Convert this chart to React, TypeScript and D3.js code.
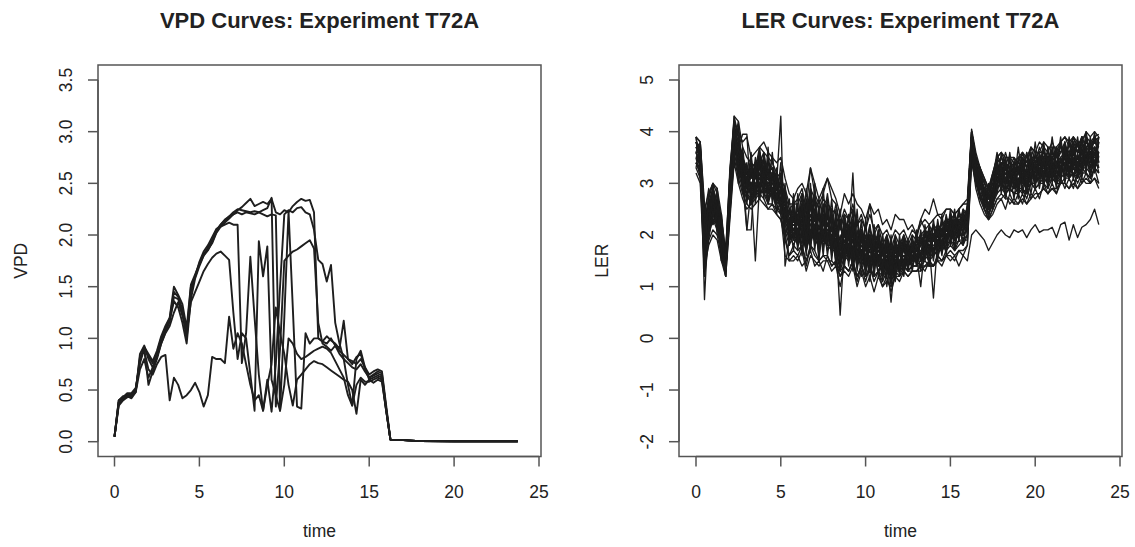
import React from "react";
import * as d3 from "d3";

// ---------------- DATA ----------------
const xTicks = [0, 5, 10, 15, 20, 25];
const vpdTicks = [0, 0.5, 1, 1.5, 2, 2.5, 3, 3.5];
const lerTicks = [-2, -1, 0, 1, 2, 3, 4, 5];
const vpdTickLabels = ["0.0", "0.5", "1.0", "1.5", "2.0", "2.5", "3.0", "3.5"];
const lerTickLabels = ["-2", "-1", "0", "1", "2", "3", "4", "5"];

// VPD: measured every 0.25 h from 0 to 16 h, then a common night tail
const vpdTimes = d3.range(0, 16.001, 0.25);
const vpdTailTimes = [16.25, 17, 18, 20, 23.75];
const vpdTailValues = [0.02, 0.015, 0.006, 0.005, 0.005];

const vpdA = [
  0.05, 0.38, 0.42, 0.45, 0.46, 0.5, 0.78, 0.92, 0.85, 0.78, 0.88, 1.02, 1.12,
  1.2, 1.5, 1.42, 1.33, 1.1, 1.52, 1.62, 1.72, 1.82, 1.86, 1.92, 2.02, 2.08,
  2.12, 2.16, 2.2, 2.24, 2.27, 2.31, 2.35, 2.28, 2.3, 2.32, 2.3, 2.35, 2.22,
  2.2, 2.24, 2.22, 2.28, 2.32, 2.35, 2.33, 2.34, 2.22, 1.0, 0.97, 0.95, 1.0,
  0.93, 0.88, 0.84, 0.8, 0.78, 0.75, 0.8, 0.72, 0.65, 0.68, 0.7, 0.68, 0.35,
];
const vpdB = [
  0.05, 0.35, 0.4, 0.43, 0.44, 0.48, 0.85, 0.93, 0.8, 0.72, 0.82, 0.98, 1.08,
  1.18, 1.36, 1.3, 1.15, 0.95, 1.38, 1.58, 1.7, 1.8, 1.88, 1.95, 2.05, 2.1,
  2.14, 2.18, 2.2, 2.22, 2.2, 2.22, 2.21, 2.2, 2.22, 2.24, 2.26, 2.36, 0.34,
  0.9, 1.75, 1.8, 1.84, 1.86, 1.89, 1.92, 1.95, 1.87, 1.15, 0.95, 0.92, 0.88,
  0.93, 0.85, 0.8, 0.76, 0.72, 0.7, 0.75, 0.68, 0.62, 0.64, 0.66, 0.64, 0.32,
];
const vpdC = [
  0.05, 0.4, 0.44, 0.44, 0.42, 0.48, 0.7, 0.8, 0.62, 0.72, 0.82, 0.95, 1.05,
  1.12, 1.25, 1.35, 1.22, 1.05, 1.35, 1.45, 1.55, 1.65, 1.72, 1.78, 1.82, 1.84,
  1.8, 1.76, 1.25, 0.8, 1.05, 1.0, 0.65, 0.3, 1.94, 1.6, 1.89, 0.6, 0.45,
  0.3, 0.55, 1.0, 0.95, 0.85, 0.8, 0.82, 0.85, 0.88, 0.9, 0.92, 0.9, 0.86,
  0.78, 0.7, 0.62, 0.45, 0.35, 0.55, 0.62, 0.58, 0.58, 0.6, 0.62, 0.6, 0.3,
];
const vpdD = [
  0.05, 0.36, 0.42, 0.46, 0.45, 0.5, 0.82, 0.88, 0.7, 0.65, 0.75, 0.82, 0.84,
  0.4, 0.62, 0.55, 0.42, 0.45, 0.5, 0.57, 0.48, 0.34, 0.45, 0.82, 0.8, 0.8,
  0.76, 1.21, 0.9, 1.05, 0.95, 0.75, 0.55, 0.4, 0.45, 0.3, 0.55, 0.75, 1.3,
  1.05, 0.85, 0.55, 0.35, 0.6, 0.65, 0.7, 0.75, 0.78, 0.76, 0.75, 0.72, 0.69,
  0.66, 0.63, 0.6, 0.58, 0.5, 0.27, 0.6, 0.55, 0.6, 0.57, 0.6, 0.58, 0.3,
];
const vpdE = [
  0.05, 0.4, 0.43, 0.47, 0.47, 0.52, 0.76, 0.9, 0.55, 0.68, 0.8, 0.95, 1.06,
  1.16, 1.4, 1.38, 1.25, 1.0, 1.45, 1.6, 1.74, 1.84, 1.9, 1.98, 2.06, 2.08,
  2.1, 2.12, 2.1, 2.1, 0.76, 1.05, 1.79, 1.2, 0.65, 0.3, 0.6, 0.29, 0.75,
  1.5, 2.2, 2.24, 2.22, 2.26, 2.27, 2.22, 2.2, 2.05, 1.76, 1.72, 1.55, 1.71,
  1.15, 0.95, 0.8, 0.55, 0.35, 0.8, 0.88, 0.72, 0.6, 0.62, 0.64, 0.62, 0.3,
];
const vpdF = [
  0.05, 0.38, 0.41, 0.44, 0.45, 0.49, 0.8, 0.91, 0.83, 0.76, 0.86, 1.0, 1.1,
  1.19, 1.45, 1.4, 1.28, 1.05, 1.5, 1.6, 1.72, 1.8, 1.85, 1.93, 2.03, 2.1,
  2.15, 2.18, 2.22, 2.25, 2.24, 2.23, 2.22, 2.23, 2.22, 2.2, 2.18, 2.2, 2.19,
  0.3, 1.2, 2.23, 1.3, 0.34, 0.32, 1.05, 0.95, 1.0, 1.0, 0.97, 1.02, 0.98,
  0.95, 0.9, 1.17, 0.8, 0.75, 0.82, 0.85, 0.7, 0.62, 0.65, 0.68, 0.66, 0.32,
];
const vpdCurves = [vpdA, vpdB, vpdC, vpdD, vpdE, vpdF];

// LER: measured every 0.25 h over the day
const lerTimes = d3.range(0, 23.76, 0.25);

const ler01 = [3.8,3.7,2.0,2.6,2.9,2.6,2.1,1.5,3.0,4.1,3.9,3.4, 3.3,3.1,3.4,3.5,3.3,3.4,3.1,3.2,2.9,2.7,2.3,2.5, 2.2,2.6,2.1,2.7,2.4,2.3,2.5,2.2,2.4,2.0,1.9,2.2, 2.1,2.4,1.9,2.1,1.8,2.1,1.9,2.0,1.7,1.9,1.6,1.8, 1.7,1.9,1.7,1.8,1.9,2.0,2.1,2.0,2.2,2.1,2.2,2.3, 2.3,2.2,2.4,2.3,2.5,4.0,3.5,3.2,3.0,2.8,3.1,3.4, 3.5,3.3,3.4,3.2,3.4,3.3,3.2,3.5,3.4,3.5,3.6,3.4, 3.6,3.4,3.6,3.7,3.5,3.7,3.6,3.6,3.8,3.7,3.8,3.7];
const ler02 = [3.4,3.2,1.5,2.1,2.3,2.2,1.7,1.3,2.6,3.7,3.3,3.0, 2.8,2.7,2.8,2.9,2.8,2.7,2.8,2.5,2.5,2.1,1.8,2.0, 1.9,2.0,1.7,2.1,1.9,1.8,1.9,1.8,1.7,1.7,1.3,1.6, 1.5,1.8,1.4,1.6,1.3,1.6,1.4,1.5,1.2,1.4,1.2,1.4, 1.3,1.4,1.3,1.4,1.4,1.5,1.6,1.5,1.6,1.7,1.7,1.8, 1.9,1.8,1.9,1.9,2.0,3.6,3.1,2.8,2.6,2.4,2.6,2.8, 2.9,2.8,2.9,2.8,2.8,2.9,2.7,3.0,2.9,3.0,3.0,2.9, 3.1,3.0,3.0,3.1,3.1,3.2,3.0,3.2,3.2,3.1,3.3,3.2];
const ler03 = [3.7,3.6,1.9,2.2,2.8,2.3,2.0,1.4,2.7,4.0,3.5,3.3, 2.9,3.2,2.9,3.4,3.0,3.2,2.8,2.9,2.5,2.6,2.0,2.4, 1.9,2.5,1.8,2.6,2.0,2.2,1.9,2.4,1.8,2.1,1.4,2.1, 1.6,2.3,1.5,2.0,1.4,2.0,1.5,1.9,1.3,1.8,1.3,1.7, 1.4,1.8,1.4,1.7,1.5,1.9,1.7,2.0,1.7,2.0,1.8,2.1, 2.0,2.2,2.0,2.3,2.1,3.9,3.2,3.1,2.7,2.7,2.7,3.3, 3.0,3.3,2.9,3.2,2.9,3.3,2.8,3.4,3.0,3.4,3.1,3.4, 3.1,3.4,3.1,3.6,3.2,3.6,3.2,3.6,3.4,3.6,3.3,3.6];
const ler04 = [3.5,3.4,2.2,2.5,2.5,2.7,1.8,1.6,2.9,3.8,3.8,3.1, 3.2,2.9,3.1,3.1,3.3,2.9,3.2,2.7,2.9,2.3,2.3,2.1, 2.3,2.2,2.2,2.2,2.4,1.9,2.4,2.0,2.2,1.8,1.8,1.8, 2.0,1.9,1.9,1.7,1.8,1.7,1.8,1.6,1.7,1.5,1.6,1.5, 1.7,1.5,1.7,1.5,1.8,1.6,2.0,1.7,2.0,1.8,2.1,1.9, 2.3,2.0,2.3,2.0,2.4,3.7,3.4,2.9,2.9,2.5,2.9,3.0, 3.4,3.0,3.3,2.9,3.3,3.0,3.2,3.1,3.4,3.1,3.5,3.1, 3.5,3.1,3.5,3.3,3.5,3.3,3.5,3.3,3.7,3.3,3.7,3.4];
const ler05 = [3.9,3.8,2.3,2.7,3.0,2.8,2.3,1.7,3.2,4.3,4.2,3.7, 3.5,3.4,3.3,3.7,3.6,3.5,3.4,3.2,3.1,2.9,2.6,2.6, 2.6,2.8,2.4,2.9,2.7,2.5,2.7,2.6,2.5,2.4,2.1,2.4, 2.3,2.6,2.2,2.3,2.1,2.4,2.1,2.2,2.0,2.1,1.9,2.1, 2.0,2.1,1.9,2.1,2.0,2.2,2.3,2.2,2.3,2.4,2.3,2.5, 2.5,2.4,2.5,2.6,2.6,4.05,3.6,3.3,3.1,2.9,3.2,3.5, 3.6,3.5,3.5,3.4,3.5,3.6,3.4,3.7,3.6,3.8,3.7,3.6, 3.8,3.6,3.8,3.9,3.7,3.9,3.8,3.8,4.0,3.9,4.0,3.9];
const ler06 = [3.2,3.0,1.2,1.9,2.1,2.0,1.6,1.2,2.4,3.5,3.1,2.8, 2.6,2.5,2.6,2.7,2.6,2.5,2.5,2.4,2.3,1.9,1.6,1.8, 1.7,1.8,1.4,1.8,1.7,1.5,1.6,1.5,1.5,1.4,1.0,1.4, 1.3,1.5,1.1,1.4,1.1,1.4,1.1,1.3,1.0,1.2,0.9,1.2, 1.1,1.3,1.2,1.3,1.3,1.3,1.4,1.4,1.4,1.5,1.5,1.6, 1.7,1.6,1.7,1.7,1.8,3.4,3.0,2.7,2.5,2.3,2.5,2.7, 2.8,2.7,2.7,2.6,2.6,2.7,2.6,2.8,2.7,2.8,2.9,2.8, 2.9,2.9,3.0,3.0,2.9,3.0,2.9,3.1,3.0,3.0,3.1,3.0];
const ler07 = [3.6,3.3,1.7,2.4,2.7,2.5,2.0,1.5,2.8,3.9,3.7,3.3, 3.1,3.0,2.9,3.3,3.2,3.1,2.9,3.0,4.3,1.4,1.9,2.0, 2.1,2.4,1.9,2.2,2.3,1.9,2.1,2.2,1.9,2.0,1.5,2.0, 1.9,2.1,1.6,1.9,1.5,1.9,1.6,1.8,1.4,1.7,1.3,1.7, 1.6,1.7,1.5,1.7,1.6,1.8,1.9,1.8,1.9,1.9,2.0,2.1, 2.1,2.1,2.2,2.2,2.3,3.8,3.3,3.0,2.8,2.7,2.9,3.1, 3.2,3.2,3.0,3.1,3.2,3.0,3.1,3.2,3.3,3.2,3.3,3.3, 3.3,3.3,3.4,3.4,3.3,3.5,3.3,3.4,3.5,3.5,3.5,3.6];
const ler08 = [3.8,3.6,2.0,2.3,2.6,2.4,1.9,1.3,2.9,4.0,3.4,3.0, 2.1,2.9,1.5,3.0,3.2,2.8,3.1,2.7,2.6,2.5,2.0,2.3, 2.0,2.3,2.1,2.4,2.1,2.1,2.3,2.0,2.1,1.8,1.7,1.9, 1.7,2.0,1.8,1.7,1.7,1.8,1.7,1.6,1.6,1.6,1.5,1.5, 1.5,1.7,1.6,1.5,1.7,1.6,1.8,1.9,1.7,1.9,2.0,1.9, 2.2,1.9,2.1,2.2,2.1,3.7,3.2,3.0,2.7,2.6,2.8,3.2, 3.1,3.0,3.2,3.0,3.0,3.1,3.0,3.3,3.1,3.1,3.4,3.1, 3.4,3.2,3.3,3.5,3.2,3.4,3.4,3.5,3.4,3.4,3.6,3.5];
const ler09 = [3.5,3.5,1.6,2.2,2.5,2.3,1.8,1.4,2.7,3.8,3.5,3.2, 3.0,3.1,3.1,3.2,3.0,3.0,2.9,2.8,2.7,2.3,2.2,2.1, 2.2,2.2,2.0,2.4,2.3,2.1,2.3,2.0,2.1,1.9,0.45,1.8, 1.9,3.2,1.6,1.9,1.7,1.8,1.7,1.8,1.6,1.6,1.5,1.6, 1.6,1.6,1.6,1.6,1.7,1.6,1.9,1.8,1.9,1.8,2.0,2.0, 2.1,2.0,2.1,2.2,2.2,3.9,3.3,3.0,2.8,2.6,2.7,3.0, 3.2,3.1,3.1,3.0,3.0,3.2,3.0,3.1,3.2,3.3,3.2,3.2, 3.3,3.1,3.3,3.4,3.4,3.3,3.3,3.4,3.5,3.4,3.4,3.5];
const ler10 = [3.7,3.7,0.75,2.4,2.8,2.5,2.0,1.4,2.8,3.9,3.6,3.3, 3.0,3.0,3.1,3.3,3.1,3.0,3.1,2.9,2.8,2.4,2.2,2.2, 2.1,2.3,2.0,2.2,2.2,2.0,2.2,2.1,2.0,1.9,1.7,1.9, 1.8,2.0,1.7,1.8,1.6,1.8,1.6,1.7,1.5,1.6,0.7,1.6, 1.5,1.6,1.5,1.6,1.6,1.7,1.8,1.8,1.8,1.9,1.9,2.0, 2.1,2.0,2.1,2.1,2.2,3.8,3.3,3.0,2.8,2.6,2.8,3.1, 3.3,3.1,3.2,3.1,3.1,3.1,3.1,3.2,3.3,3.2,3.3,3.3, 3.3,3.3,3.3,3.5,3.3,3.4,3.3,3.5,3.5,3.4,3.6,3.5];
const ler11 = [3.6,3.4,1.9,2.3,2.6,2.4,2.0,1.4,2.8,3.9,3.6,3.2, 3.0,3.0,3.0,3.1,3.1,3.0,3.0,2.8,2.7,2.4,2.1,2.2, 2.1,2.3,2.0,2.3,2.2,2.0,2.2,2.1,2.0,1.9,1.6,1.9, 1.8,2.0,1.7,1.8,1.6,1.8,1.6,1.7,1.5,1.6,1.4,1.6, 1.5,1.6,1.5,1.6,1.6,1.0,1.8,1.8,0.78,1.9,1.9,2.0, 2.1,2.0,2.1,2.1,2.2,3.8,3.3,3.0,2.8,2.6,2.8,3.1, 3.1,3.2,3.0,3.1,3.0,3.2,3.0,3.2,3.1,3.3,3.2,3.3, 3.3,3.2,3.3,3.3,3.4,3.3,3.3,3.4,3.4,3.5,3.4,3.6];
const ler12 = [3.9,3.8,2.5,2.8,3.0,2.9,2.4,1.6,3.3,4.2,4.0,3.8, 3.9,3.5,3.6,3.7,3.8,3.6,3.5,3.4,3.5,3.1,2.8,2.7, 2.9,3.0,2.8,3.3,3.0,2.7,2.9,3.1,2.9,2.7,2.4,2.8, 2.6,2.8,2.6,2.5,2.3,2.6,2.4,2.5,2.2,2.3,2.1,2.4, 2.3,2.3,2.1,2.2,2.0,2.3,2.5,2.4,2.7,2.4,2.4,2.5, 2.5,2.4,2.5,2.6,2.7,4.0,3.5,3.3,3.1,2.9,3.2,3.5, 3.6,3.4,3.5,3.5,3.4,3.6,3.5,3.7,3.6,3.6,3.8,3.7, 3.7,3.7,3.8,3.9,3.8,3.9,3.7,3.9,3.9,3.8,3.9,3.95];
const ler13 = [3.3,3.1,1.4,1.8,2.0,1.9,1.5,1.2,2.3,3.4,3.0,2.7, 2.5,2.6,2.7,2.8,2.7,2.5,2.6,2.4,2.3,2.0,1.5,1.6, 1.5,1.7,1.3,1.6,1.5,1.4,1.5,1.5,1.3,1.4,1.2,1.3, 1.2,1.4,1.0,1.3,1.0,1.2,0.9,1.2,1.0,1.1,1.0,1.2, 1.2,1.3,1.2,1.3,1.3,1.4,1.4,1.5,1.4,1.6,1.5,1.7, 1.8,1.7,1.8,1.9,1.9,3.5,3.1,2.8,2.6,2.4,2.6,2.9, 3.0,2.9,2.9,2.8,2.9,2.9,2.8,3.0,3.0,3.1,3.1,3.0, 3.2,3.0,3.2,3.3,3.1,3.3,3.1,3.3,3.3,3.2,3.4,3.3];
const ler14 = [3.8,3.5,2.2,2.7,2.6,2.8,2.1,1.5,3.1,4.1,3.8,3.5, 3.2,3.3,3.2,3.4,3.4,3.2,3.3,3.0,3.0,2.6,2.4,2.3, 2.5,2.0,2.7,1.8,2.8,1.7,2.6,1.8,2.5,1.6,2.3,1.7, 2.4,1.6,2.3,1.5,2.2,1.4,2.1,1.4,2.0,1.3,1.9,1.4, 1.9,1.4,1.8,1.5,1.9,1.6,2.1,1.6,2.2,1.8,2.3,1.9, 2.4,2.1,2.4,2.2,2.5,3.9,3.4,3.1,2.9,2.7,2.9,3.3, 3.3,3.3,3.2,3.3,3.2,3.4,3.2,3.4,3.3,3.5,3.4,3.4, 3.5,3.4,3.4,3.6,3.4,3.6,3.5,3.6,3.6,3.6,3.7,3.6];
const ler15 = [3.6,3.6,1.8,2.2,2.6,2.3,1.9,1.4,2.7,3.8,3.5,3.1, 2.9,2.8,3.0,3.0,2.9,2.9,2.8,2.7,2.6,2.3,2.0,2.1, 2.0,2.2,1.9,2.1,2.0,1.9,2.0,1.9,1.9,1.8,1.5,1.8, 1.7,1.9,1.6,1.7,1.5,1.7,1.5,1.6,1.4,1.5,1.3,1.5, 1.4,1.5,1.4,1.5,1.5,1.6,1.7,1.7,1.7,1.8,1.8,1.9, 2.0,1.9,2.0,2.0,2.1,3.6,3.0,2.8,2.5,2.3,2.5,2.7, 2.7,2.8,2.6,2.7,2.6,2.8,2.6,2.7,2.8,2.8,2.9,2.8, 2.9,2.8,3.0,3.0,2.9,3.1,2.9,3.0,3.1,3.0,3.1,2.9];
const ler16 = [3.7,3.5,2.1,2.5,2.7,2.6,2.1,1.5,2.9,4.0,3.7,3.95, 3.95,2.6,2.8,3.2,3.0,3.1,2.9,3.0,2.7,2.5,2.2,2.3, 2.2,2.4,2.1,2.3,2.3,2.1,2.2,2.2,2.1,2.0,1.7,2.0, 1.8,2.1,1.8,1.9,1.7,1.9,1.7,1.8,1.6,1.7,1.5,1.7, 1.6,1.7,1.6,1.7,1.7,1.8,1.9,1.9,1.9,2.0,2.0,2.1, 2.2,2.1,2.2,2.3,2.3,3.9,3.4,3.1,2.9,2.7,2.9,3.3, 3.4,3.3,3.3,3.2,3.3,3.3,3.2,3.4,3.4,3.4,3.5,3.4, 3.5,3.4,3.5,3.6,3.5,3.6,3.4,3.6,3.7,3.6,3.7,3.7];
const ler17 = [3.4,3.3,1.7,2.1,2.4,2.2,1.8,1.3,2.6,3.7,3.4,3.0, 2.8,2.9,2.9,3.0,2.9,2.8,2.8,2.6,2.4,1.6,1.5,1.5, 1.6,1.4,1.5,1.7,1.4,1.5,1.3,1.6,1.4,1.5,1.3,1.4, 1.3,1.5,1.2,1.4,1.2,1.3,1.2,1.3,1.1,1.3,1.2,1.3, 1.2,1.4,1.3,1.3,1.3,1.4,1.5,1.4,1.4,1.6,1.5,1.6, 1.6,1.5,1.7,1.6,1.8,3.5,3.1,2.7,2.5,2.4,2.6,2.9, 3.0,2.8,2.9,2.8,2.9,2.8,2.9,3.0,2.9,3.0,3.1,3.0, 3.1,3.0,3.1,3.2,3.1,3.2,3.1,3.3,3.2,3.1,3.3,3.2];
const ler18 = [3.7,3.6,2.0,2.5,2.8,2.6,2.0,1.5,3.0,4.0,3.8,3.4, 3.2,3.2,3.1,3.6,3.3,3.2,3.3,3.0,3.0,2.8,2.5,2.6, 2.7,2.9,2.5,3.3,2.8,2.6,2.8,3.1,2.7,2.6,2.2,2.5, 2.3,2.5,2.2,2.4,2.1,2.6,2.0,2.2,1.8,2.0,1.7,2.0, 1.8,2.0,1.8,2.0,1.9,2.3,2.1,2.2,2.0,2.2,2.1,2.3, 2.3,2.2,2.4,2.4,2.5,4.0,3.5,3.2,2.9,2.8,3.0,3.4, 3.5,3.3,3.4,3.3,3.3,3.5,3.3,3.5,3.5,3.6,3.6,3.5, 3.6,3.5,3.7,3.7,3.6,3.8,3.6,3.8,3.8,3.7,3.9,3.8];
const ler19 = [3.5,3.6,1.9,2.0,2.5,2.2,1.7,1.3,2.7,3.8,3.4,3.1, 2.9,3.0,2.8,3.1,3.0,2.9,2.8,2.6,2.7,2.2,1.9,2.0, 1.8,2.1,1.7,2.0,1.9,1.8,1.9,1.8,1.8,1.7,1.4,1.7, 1.6,1.9,1.5,1.7,1.4,1.6,1.4,1.6,1.3,1.5,1.2,1.5, 1.4,1.5,1.4,1.6,1.5,1.6,1.7,1.7,1.7,1.8,1.8,1.9, 2.0,1.9,2.0,2.0,2.1,3.7,3.2,2.9,2.7,2.5,2.7,3.0, 3.1,3.0,3.0,2.9,3.1,3.0,2.9,3.1,3.1,3.1,3.2,3.1, 3.2,3.1,3.2,3.3,3.2,3.3,3.2,3.3,3.4,3.3,3.4,3.3];
const ler20 = [3.8,3.7,2.1,2.6,2.9,2.6,2.2,1.6,2.9,4.2,3.9,3.5, 3.3,3.2,3.3,3.5,3.4,3.2,3.2,3.1,2.9,2.7,2.4,2.4, 2.4,2.6,2.3,2.5,2.5,2.3,2.4,2.3,2.3,2.1,1.9,2.1, 2.0,2.2,1.9,2.0,1.8,2.0,1.8,1.9,1.7,1.8,1.6,1.8, 1.7,1.8,1.7,1.8,1.8,1.9,2.0,2.0,2.0,2.1,2.1,2.2, 2.3,2.2,2.3,2.3,2.4,3.9,3.4,3.1,2.9,2.7,3.0,3.3, 3.4,3.4,3.3,3.4,3.3,3.5,3.3,3.5,3.5,3.4,3.6,3.5, 3.6,3.5,3.6,3.7,3.6,3.7,3.6,3.7,3.8,3.7,3.8,3.8];
const ler21 = [3.9,3.4,2.4,2.9,2.4,2.9,1.8,1.6,3.2,4.2,3.3,3.6, 2.7,3.5,2.8,3.7,2.9,3.5,2.7,3.3,2.5,2.9,2.0,2.7, 1.9,2.8,1.8,3.0,1.9,2.6,1.9,2.7,1.7,2.5,1.5,2.4, 1.6,2.5,1.5,2.3,1.4,2.2,1.4,2.1,1.3,2.0,1.2,2.0, 1.3,2.0,1.4,2.0,1.5,2.1,1.6,2.2,1.6,2.3,1.8,2.4, 2.0,2.5,1.9,2.5,2.1,3.9,3.1,3.3,2.6,2.9,2.7,3.5, 3.0,3.5,2.9,3.4,2.9,3.5,2.8,3.6,3.0,3.6,3.1,3.7, 3.1,3.7,3.2,3.8,3.1,3.8,3.2,3.9,3.3,3.8,3.3,3.9];
const ler22 = [3.3,3.7,1.4,2.7,2.2,2.6,1.5,1.3,2.5,3.6,3.8,2.9, 3.3,2.6,3.2,2.7,3.3,2.6,3.2,2.4,2.9,2.0,2.3,1.7, 2.4,1.6,2.3,1.7,2.5,1.5,2.4,1.6,2.2,1.4,1.9,1.4, 2.0,1.3,1.9,1.2,1.8,1.1,1.8,1.2,1.7,1.0,1.6,1.1, 1.7,1.2,1.7,1.3,1.8,1.3,1.9,1.4,2.0,1.5,2.1,1.6, 2.3,1.7,2.2,1.8,2.3,3.6,3.4,2.7,2.9,2.3,2.9,2.8, 3.2,2.7,3.2,2.7,3.3,2.8,3.2,2.8,3.3,2.9,3.4,2.9, 3.4,2.9,3.5,3.0,3.5,3.1,3.4,3.1,3.6,3.1,3.6,3.2];
const ler23 = [3.6,3.8,2.6,2.0,3.0,2.1,2.3,1.2,3.1,3.7,4.1,2.8, 3.1,3.4,2.7,3.6,2.8,3.4,3.3,2.6,3.1,2.2,2.5,1.9, 2.6,1.9,2.6,2.0,2.7,1.8,2.6,1.9,2.4,1.7,2.3,1.6, 2.2,1.5,2.1,1.6,2.0,1.4,2.0,1.5,1.8,1.4,1.8,1.3, 1.8,1.4,1.9,1.5,2.0,1.5,2.1,1.6,2.2,1.7,2.3,1.8, 2.4,1.9,2.5,2.0,2.5,3.8,3.2,3.1,2.7,2.8,2.6,3.2, 3.4,2.9,3.5,2.9,3.5,3.0,3.6,3.0,3.6,3.1,3.7,3.1, 3.7,3.2,3.8,3.2,3.8,3.3,3.9,3.3,3.9,3.4,4.0,3.4];
const ler24 = [3.5,3.1,2.4,1.9,2.5,2.8,2.2,1.4,2.6,4.0,3.2,3.5, 2.6,3.3,3.4,2.8,3.5,2.7,3.0,3.1,2.5,2.8,1.8,2.5, 1.7,2.5,1.6,2.7,1.7,2.4,1.6,2.5,1.5,2.3,1.3,2.2, 1.4,2.1,1.3,2.0,1.2,1.9,1.2,1.9,1.1,1.8,1.0,1.8, 1.2,1.8,1.3,1.8,1.4,1.9,1.5,2.0,1.5,2.1,1.6,2.2, 1.8,2.3,1.9,2.4,2.0,3.7,3.0,3.2,2.5,2.8,2.5,3.3, 2.8,3.4,2.8,3.3,2.7,3.4,2.8,3.4,2.9,3.5,2.9,3.5, 3.0,3.6,3.0,3.7,3.1,3.7,3.1,3.7,3.2,3.8,3.2,3.8];
const ler25 = [3.7,3.6,2.3,2.4,2.9,2.5,2.4,1.3,3.0,4.3,3.9,3.3, 2.1,2.1,3.4,3.4,3.6,3.1,3.5,2.9,3.2,2.6,2.4,2.5, 2.3,2.8,2.2,2.9,2.4,2.7,2.3,2.8,2.2,2.6,2.1,2.4, 2.0,2.3,1.9,2.2,1.8,2.2,1.7,2.1,1.6,2.0,1.6,1.9, 1.7,2.0,1.7,1.9,1.8,2.0,2.0,2.1,1.9,2.2,2.1,2.2, 2.3,2.4,2.2,2.5,2.4,4.0,3.5,3.3,3.0,2.9,3.1,3.6, 3.3,3.6,3.3,3.5,3.2,3.6,3.3,3.7,3.4,3.7,3.5,3.6, 3.5,3.7,3.6,3.8,3.5,3.9,3.6,3.9,3.7,3.8,3.8,3.9];
const ler26 = [3.4,3.3,2.0,2.6,2.2,2.5,1.6,1.5,2.5,3.5,3.4,2.9, 2.8,2.6,2.9,2.7,3.0,2.6,2.9,2.5,2.6,2.1,2.0,1.8, 2.0,1.7,2.1,1.8,2.2,1.6,2.1,1.7,2.0,1.5,1.8,1.5, 1.7,1.4,1.7,1.4,1.6,1.3,1.6,1.3,1.5,1.3,1.5,1.2, 1.5,1.3,1.5,1.4,1.6,1.4,1.7,1.5,1.7,1.6,1.8,1.7, 1.9,1.7,1.9,1.8,2.0,3.5,2.9,2.6,2.4,2.3,2.4,2.6, 2.7,2.5,2.8,2.6,2.8,2.6,2.9,2.7,2.9,2.7,3.0,2.8, 3.0,2.8,3.1,2.9,3.1,2.9,3.2,3.0,3.2,3.0,3.3,3.0];
const ler27 = [3.8,3.5,1.5,2.8,3.0,2.2,2.3,1.2,3.2,3.8,4.2,3.0, 3.4,2.8,3.5,2.9,3.6,2.8,3.6,2.6,3.4,2.2,2.7,1.9, 2.8,2.0,2.9,1.9,3.0,1.8,2.9,1.9,2.7,1.7,2.5,1.6, 2.4,1.5,2.5,1.4,2.3,1.3,2.2,1.4,2.0,1.3,2.0,1.2, 2.0,1.4,1.9,1.5,2.1,1.5,2.2,1.6,2.3,1.7,2.4,1.8, 2.5,2.0,2.5,2.1,2.6,3.9,3.4,2.9,3.1,2.5,3.2,2.9, 3.6,3.0,3.6,3.0,3.7,3.1,3.6,3.1,3.8,3.2,3.8,3.2, 3.9,3.3,3.9,3.3,3.9,3.4,3.8,3.4,4.0,3.5,3.9,3.5];
const ler28 = [3.9,3.2,1.8,2.1,2.7,2.6,1.5,1.7,2.4,4.1,3.0,3.7, 2.9,3.6,2.6,3.4,2.7,3.7,2.6,3.2,2.4,3.0,1.9,2.8, 1.8,2.6,1.7,2.8,1.8,2.5,1.7,2.6,1.6,2.4,1.4,2.3, 1.5,2.2,1.4,2.1,1.3,2.0,1.3,2.0,1.2,1.9,1.1,1.9, 1.3,1.9,1.4,1.9,1.5,2.0,1.6,2.1,1.6,2.2,1.7,2.3, 1.9,2.4,2.0,2.4,2.1,3.8,3.0,3.3,2.6,3.0,2.6,3.4, 2.9,3.5,2.9,3.4,2.8,3.5,2.9,3.6,3.0,3.6,3.0,3.7, 3.1,3.7,3.1,3.8,3.2,3.8,3.2,3.9,3.3,3.9,3.3,3.9];
const ler29 = [3.6,3.4,1.3,2.2,2.8,2.0,2.0,1.3,2.9,3.9,3.7,3.3, 3.1,2.9,3.3,2.9,3.2,2.8,3.1,2.7,2.9,2.3,2.2,2.0, 2.3,1.8,2.4,1.9,2.4,1.7,2.3,1.8,2.2,1.6,2.0,1.5, 2.1,1.4,2.0,1.5,1.9,1.3,1.9,1.4,1.8,1.2,1.7,1.3, 1.7,1.3,1.8,1.4,1.8,1.5,1.9,1.5,2.0,1.6,2.1,1.7, 2.2,1.8,2.2,1.9,2.2,3.7,3.2,2.8,2.8,2.4,2.8,2.9, 3.3,2.8,3.3,2.9,3.3,2.9,3.3,3.0,3.4,3.0,3.5,3.0, 3.5,3.0,3.5,3.1,3.6,3.1,3.6,3.2,3.7,3.2,3.7,3.3];
const ler30 = [3.7,3.7,2.2,2.5,2.3,2.9,1.7,1.6,2.7,4.0,3.5,3.4, 3.0,3.3,2.8,3.5,3.0,3.3,2.8,3.1,2.6,2.7,2.1,2.6, 2.0,2.6,1.9,2.6,2.0,2.4,2.0,2.5,1.8,2.3,1.7,2.2, 1.7,2.2,1.6,2.1,1.5,2.0,1.5,2.0,1.4,1.9,1.3,1.9, 1.4,1.9,1.5,1.8,1.6,1.9,1.7,2.0,1.7,2.1,1.8,2.2, 2.0,2.3,2.0,2.4,2.1,3.9,3.3,3.1,2.7,2.8,2.7,3.3, 3.0,3.4,3.0,3.3,3.0,3.4,3.0,3.5,3.1,3.5,3.2,3.5, 3.2,3.6,3.3,3.7,3.2,3.7,3.3,3.8,3.4,3.7,3.4,3.8];
// the one plant that stays low after 16 h
const ler31 = [3.4,3.2,1.6,2.0,2.3,2.1,1.7,1.3,2.5,3.6,3.2,2.9, 2.7,2.7,2.8,2.9,2.8,2.6,2.6,2.5,2.4,2.0,1.6,1.7, 1.6,1.8,1.5,1.8,1.6,1.5,1.6,1.6,1.4,1.5,1.2,1.4, 1.3,1.5,1.2,1.4,1.2,1.4,1.2,1.3,1.2,1.3,1.1,1.3, 1.3,1.4,1.3,1.4,1.4,1.4,1.3,1.5,1.4,1.5,1.4,1.6, 1.5,1.6,1.4,1.6,1.5,2.0,2.1,2.0,1.9,1.7,1.85,2.0, 2.1,2.0,1.95,2.1,2.05,2.1,1.95,2.1,2.2,2.05,2.1,2.1, 2.15,1.95,2.2,2.25,1.9,2.2,1.95,2.15,2.2,2.3,2.5,2.2];
const lerCurves = [ler01, ler02, ler03, ler04, ler05, ler06, ler07, ler08, ler09, ler10,
  ler11, ler12, ler13, ler14, ler15, ler16, ler17, ler18, ler19, ler20,
  ler21, ler22, ler23, ler24, ler25, ler26, ler27, ler28, ler29, ler30, ler31];

// ---------------- DRAWING ----------------
const FONT = "'Liberation Sans', Arial, Helvetica, sans-serif";
const BOX_COLOR = "#555";
const TEXT_COLOR = "#222";

type Box = { x0: number; x1: number; y0: number; y1: number };

function Frame({ box, xs, ys, yTicks, yLabels, title, ylab, }: {
  box: Box; xs: d3.ScaleLinear<number, number>; ys: d3.ScaleLinear<number, number>;
  yTicks: number[]; yLabels: string[]; title: string; ylab: string;
}) {
  const cx = (box.x0 + box.x1) / 2;
  const cy = (box.y0 + box.y1) / 2;
  const tl = 10;
  return (
    <g>
      <rect x={box.x0} y={box.y0} width={box.x1 - box.x0} height={box.y1 - box.y0}
        fill="none" stroke={BOX_COLOR} strokeWidth={1.5} />
      <line x1={xs(xTicks[0])} x2={xs(xTicks[xTicks.length - 1])} y1={box.y1} y2={box.y1}
        stroke={BOX_COLOR} strokeWidth={1.5} />
      {xTicks.map((t) => (
        <g key={"x" + t}>
          <line x1={xs(t)} x2={xs(t)} y1={box.y1} y2={box.y1 + tl} stroke={BOX_COLOR} strokeWidth={1.5} />
          <text x={xs(t)} y={498} textAnchor="middle" fontSize={17.5} fontFamily={FONT} fill={TEXT_COLOR}>{t}</text>
        </g>
      ))}
      <line x1={box.x0} x2={box.x0} y1={ys(yTicks[0])} y2={ys(yTicks[yTicks.length - 1])}
        stroke={BOX_COLOR} strokeWidth={1.5} />
      {yTicks.map((t, i) => (
        <g key={"y" + t}>
          <line x1={box.x0 - tl} x2={box.x0} y1={ys(t)} y2={ys(t)} stroke={BOX_COLOR} strokeWidth={1.5} />
          <text transform={`translate(${box.x0 - 26.5},${ys(t)}) rotate(-90)`} textAnchor="middle"
            fontSize={17.5} fontFamily={FONT} fill={TEXT_COLOR}>{yLabels[i]}</text>
        </g>
      ))}
      <text x={cx} y={28} textAnchor="middle" fontSize={22} fontWeight="bold" fontFamily={FONT} fill={TEXT_COLOR}>{title}</text>
      <text x={cx} y={537} textAnchor="middle" fontSize={17.5} fontFamily={FONT} fill={TEXT_COLOR}>time</text>
      <text transform={`translate(${box.x0 - 71},${cy}) rotate(-90)`} textAnchor="middle"
        fontSize={17.5} fontFamily={FONT} fill={TEXT_COLOR}>{ylab}</text>
    </g>
  );
}

export default function App() {
  const boxL: Box = { x0: 98, x1: 541, y0: 65, y1: 456.5 };
  const xL = d3.scaleLinear().domain([0, 25]).range([114.5, 539]);
  const yL = d3.scaleLinear().domain([0, 3.5]).range([441.7, 80]);
  const boxR: Box = { x0: 679, x1: 1122, y0: 65, y1: 456.5 };
  const xR = d3.scaleLinear().domain([0, 25]).range([696, 1120]);
  const yR = d3.scaleLinear().domain([-2, 5]).range([441.7, 80]);

  const vpdLine = d3.line<[number, number]>().x((d) => xL(d[0])).y((d) => yL(d[1]));
  const lerLine = d3.line<[number, number]>().x((d) => xR(d[0])).y((d) => yR(d[1]));

  const vpdPaths = vpdCurves.map((c) => {
    const pts: [number, number][] = vpdTimes.map((t, i) => [t, c[i]]);
    vpdTailTimes.forEach((t, i) => pts.push([t, vpdTailValues[i]]));
    return vpdLine(pts) || "";
  });
  const lerPaths = lerCurves.map((c) => lerLine(lerTimes.map((t, i) => [t, c[i]] as [number, number])) || "");

  return (
    <svg width={1135} height={547} viewBox="0 0 1135 547"
      style={{ position: "absolute", left: 0, top: 0, background: "#fff" }}>
      <rect width={1135} height={547} fill="#fff" />
      <Frame box={boxL} xs={xL} ys={yL} yTicks={vpdTicks} yLabels={vpdTickLabels}
        title="VPD Curves: Experiment T72A" ylab="VPD" />
      <Frame box={boxR} xs={xR} ys={yR} yTicks={lerTicks} yLabels={lerTickLabels}
        title="LER Curves: Experiment T72A" ylab="LER" />
      <g fill="none" stroke="#1e1e1e" strokeWidth={1.9} strokeLinejoin="round">
        {vpdPaths.map((d, i) => <path key={"v" + i} d={d} />)}
      </g>
      <g fill="none" stroke="#1c1c1c" strokeWidth={1.35} strokeLinejoin="round">
        {lerPaths.map((d, i) => <path key={"l" + i} d={d} />)}
      </g>
    </svg>
  );
}
